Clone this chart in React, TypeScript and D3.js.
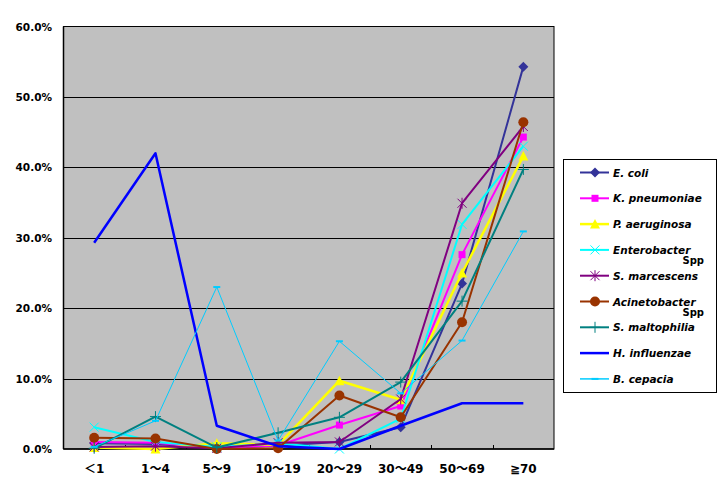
import * as d3 from 'd3';

const categories = ['＜1', '1～4', '5～9', '10～19', '20～29', '30～49', '50～69', '≧70'];
const yTicks = [0, 10, 20, 30, 40, 50, 60];

// percent of isolates per age group
const eColi = [0.8, 0.7, 0.1, 0.5, 1.0, 3.1, 23.5, 54.3];
const kPneumoniae = [1.0, 0.9, 0.1, 0.5, 3.4, 6.1, 27.6, 44.3];
const pAeruginosa = [0.2, 0.0, 0.8, 0.6, 9.7, 7.0, 25.0, 41.6];
const enterobacter = [3.1, 1.0, 0.3, 0.8, 0.0, 4.3, 31.9, 43.0];
const sMarcescens = [0.3, 0.4, 0.1, 0.9, 1.0, 7.1, 34.9, 45.8];
const acinetobacter = [1.6, 1.5, 0.0, 0.1, 7.6, 4.5, 18.0, 46.4];
const sMaltophilia = [0.1, 4.6, 0.2, 2.3, 4.5, 9.5, 21.0, 39.7];
const hInfluenzae = [29.3, 42.0, 3.3, 0.4, 0.0, 3.3, 6.5, 6.5];
const bCepacia = [0.3, 4.0, 23.0, 1.2, 15.3, 7.9, 15.4, 30.9];

type Marker = 'diamond' | 'square' | 'triangle' | 'x' | 'star' | 'circle' | 'plus' | 'none' | 'dash';

const series: { name: string; sub?: string; values: number[]; color: string; marker: Marker; width: number }[] = [
  { name: 'E. coli', values: eColi, color: '#333399', marker: 'diamond', width: 2 },
  { name: 'K. pneumoniae', values: kPneumoniae, color: '#ff00ff', marker: 'square', width: 2 },
  { name: 'P. aeruginosa', values: pAeruginosa, color: '#ffff00', marker: 'triangle', width: 2.5 },
  { name: 'Enterobacter', sub: 'Spp', values: enterobacter, color: '#00ffff', marker: 'x', width: 2 },
  { name: 'S. marcescens', values: sMarcescens, color: '#800080', marker: 'star', width: 2 },
  { name: 'Acinetobacter', sub: 'Spp', values: acinetobacter, color: '#993300', marker: 'circle', width: 2 },
  { name: 'S. maltophilia', values: sMaltophilia, color: '#008080', marker: 'plus', width: 2 },
  { name: 'H. influenzae', values: hInfluenzae, color: '#0000ff', marker: 'none', width: 2.5 },
  { name: 'B. cepacia', values: bCepacia, color: '#00ccff', marker: 'dash', width: 1 },
];

const plot = { left: 63.5, right: 554, top: 26.5, bottom: 449 };

const x = d3.scaleBand<string>().domain(categories).range([plot.left, plot.right]).padding(0);
const y = d3.scaleLinear().domain([0, 60]).range([plot.bottom, plot.top]);
const cx = (c: string) => (x(c) ?? 0) + x.bandwidth() / 2;

function MarkerShape({ type, color, px, py }: { type: Marker; color: string; px: number; py: number }) {
  const t = `translate(${px},${py})`;
  switch (type) {
    case 'diamond':
      return <path transform={t} d="M0,-5L5,0L0,5L-5,0Z" fill={color} />;
    case 'square':
      return <rect transform={t} x={-3.5} y={-3.5} width={7} height={7} fill={color} />;
    case 'triangle':
      return <path transform={t} d="M0,-5L5,4.5L-5,4.5Z" fill={color} />;
    case 'circle':
      return <circle transform={t} r={5} fill={color} />;
    case 'x':
      return <path transform={t} d="M-4.5,-4.5L4.5,4.5M4.5,-4.5L-4.5,4.5" stroke={color} strokeWidth={1} fill="none" />;
    case 'star':
      return <path transform={t} d="M-4.5,-4.5L4.5,4.5M4.5,-4.5L-4.5,4.5M0,-5.5L0,5.5" stroke={color} strokeWidth={1} fill="none" />;
    case 'plus':
      return <path transform={t} d="M-5.5,0L5.5,0M0,-5.5L0,5.5" stroke={color} strokeWidth={1} fill="none" />;
    case 'dash':
      return <path transform={t} d="M-3.5,0L3.5,0" stroke={color} strokeWidth={2} fill="none" />;
    default:
      return null;
  }
}

export default function App() {
  const line = d3
    .line<number>()
    .x((_, i) => cx(categories[i]))
    .y(d => y(d));

  const legend = { x: 563.5, y: 159.5, w: 153, h: 233, row: 25.8 };

  return (
    <svg
      width={728}
      height={493}
      style={{ position: 'absolute', left: 0, top: 0, background: '#fff' }}
      fontFamily="'DejaVu Sans', 'Noto Sans CJK JP', sans-serif"
    >
      <rect x={plot.left} y={plot.top} width={plot.right - plot.left} height={plot.bottom - plot.top} fill="#c0c0c0" />

      {yTicks.slice(1, -1).map(t => (
        <line key={t} x1={plot.left} x2={plot.right} y1={Math.round(y(t)) + 0.5} y2={Math.round(y(t)) + 0.5} stroke="#000" />
      ))}
      <rect x={plot.left} y={plot.top} width={plot.right - plot.left} height={plot.bottom - plot.top} fill="none" stroke="#000" />
      <line x1={plot.left} x2={plot.left} y1={plot.top} y2={plot.bottom} stroke="#000" strokeWidth={1.5} />
      <line x1={plot.left} x2={plot.right} y1={plot.bottom} y2={plot.bottom} stroke="#000" strokeWidth={1.5} />

      {categories.slice(1).map(c => (
        <line key={c} x1={Math.round(x(c) ?? 0) + 0.5} x2={Math.round(x(c) ?? 0) + 0.5} y1={plot.bottom - 4} y2={plot.bottom} stroke="#000" />
      ))}

      {yTicks.map(t => (
        <text key={t} x={52} y={y(t) + 4} textAnchor="end" fontSize={10.5} fontWeight="bold">
          {t.toFixed(1)}%
        </text>
      ))}

      {categories.map(c => (
        <text key={c} x={cx(c)} y={473} textAnchor="middle" fontSize={12} fontWeight="bold">
          {c}
        </text>
      ))}

      {series.map(s => (
        <g key={s.name}>
          <path d={line(s.values) ?? ''} fill="none" stroke={s.color} strokeWidth={s.width} strokeLinejoin="round" />
          {s.values.map((v, i) => (
            <MarkerShape key={i} type={s.marker} color={s.color} px={cx(categories[i])} py={y(v)} />
          ))}
        </g>
      ))}

      <rect x={legend.x} y={legend.y} width={legend.w} height={legend.h} fill="#fff" stroke="#000" strokeWidth={1} />
      {series.map((s, i) => {
        const ly = 172.5 + i * legend.row;
        return (
          <g key={s.name}>
            <line x1={580} x2={609} y1={ly} y2={ly} stroke={s.color} strokeWidth={Math.max(s.width, 1.5)} />
            <MarkerShape type={s.marker} color={s.color} px={595} py={ly} />
            <text x={613} y={ly + 4} fontSize={10.5} fontWeight="bold" fontStyle="italic">
              {s.name}
            </text>
            {s.sub && (
              <text x={704} y={ly + 14} textAnchor="end" fontSize={10} fontWeight="bold">
                {s.sub}
              </text>
            )}
          </g>
        );
      })}
    </svg>
  );
}
